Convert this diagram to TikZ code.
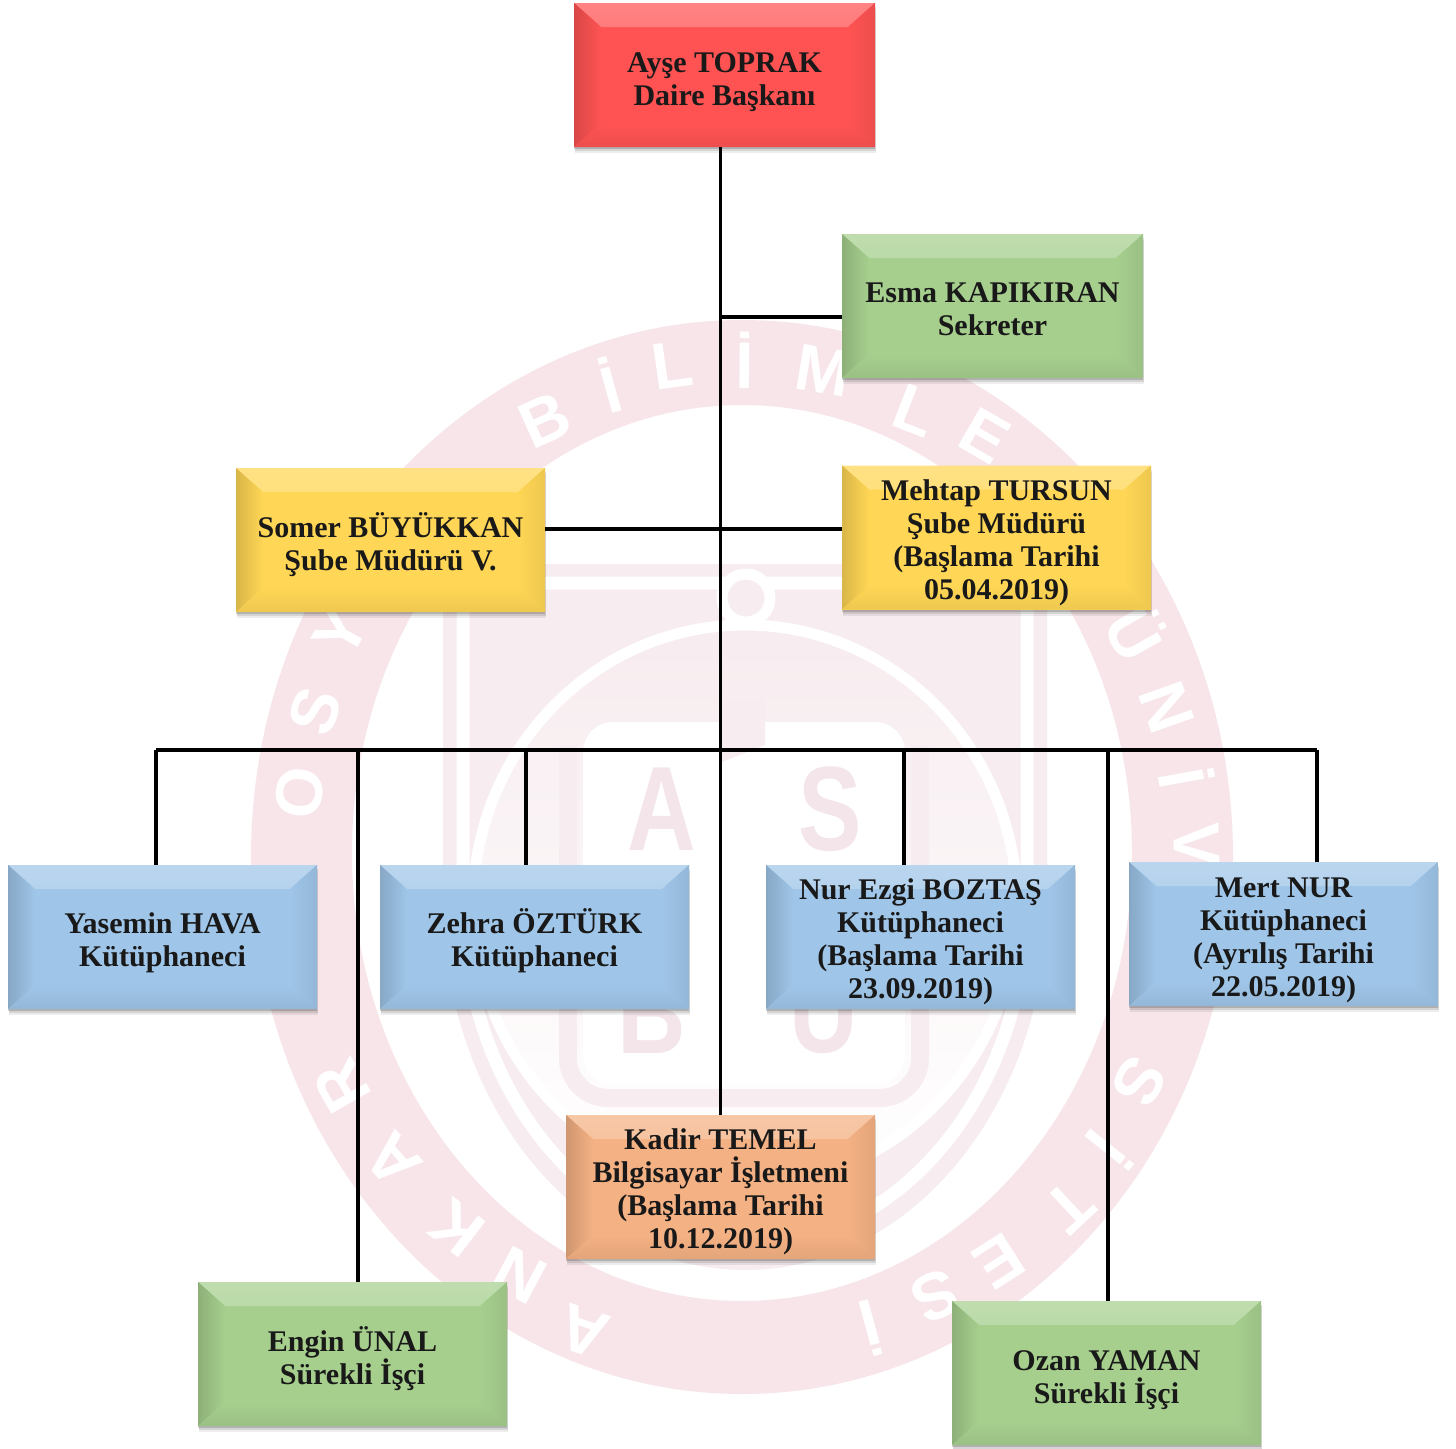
\documentclass[tikz,border=0pt]{standalone}
\usepackage{fontspec}
\setmainfont{Liberation Serif}
\newfontfamily\wmfont{Liberation Sans}
\definecolor{bxred}{HTML}{FF5353}
\definecolor{bxgreen}{HTML}{A6CF8E}
\definecolor{bxyellow}{HTML}{FFD655}
\definecolor{bxblue}{HTML}{9FC5E8}
\definecolor{bxorange}{HTML}{F4B183}
\definecolor{wmring}{HTML}{F7E5E9}
\definecolor{wmpale}{HTML}{F7ECEF}
\definecolor{wmletter}{HTML}{F3E5E9}
\newcommand\firstline[1]{\rule{0pt}{#1pt}}
\tikzset{
  bevelbox/.style={
    inner sep=0pt, outer sep=0pt, align=center,
    font=\fontsize{30}{33}\selectfont\bfseries, text=black!90,
    preaction={fill=black,opacity=.07,transform canvas={xshift=1pt,yshift=-6pt}},
    preaction={fill=black,opacity=.10,transform canvas={xshift=.5pt,yshift=-4pt}},
    preaction={fill=black,opacity=.16,transform canvas={yshift=-2pt}},
    fill=#1,
    path picture={
      \shade[top color=#1!72!white,bottom color=#1]
        (path picture bounding box.north west)--(path picture bounding box.north east)
        --([shift={(-27,24)}]path picture bounding box.north east)--([shift={(27,24)}]path picture bounding box.north west)--cycle;
      \shade[left color=#1!85!black,right color=#1]
        (path picture bounding box.north west)--([shift={(27,24)}]path picture bounding box.north west)
        --([shift={(27,-24)}]path picture bounding box.south west)--(path picture bounding box.south west)--cycle;
      \shade[left color=#1,right color=#1!93!black]
        (path picture bounding box.north east)--([shift={(-27,24)}]path picture bounding box.north east)
        --([shift={(-27,-24)}]path picture bounding box.south east)--(path picture bounding box.south east)--cycle;
      \shade[top color=#1,bottom color=#1!93!black]
        (path picture bounding box.south west)--([shift={(27,-24)}]path picture bounding box.south west)
        --([shift={(-27,-24)}]path picture bounding box.south east)--(path picture bounding box.south east)--cycle;
    }},
  wide/.style={minimum width=309pt,minimum height=144pt},
  narrow/.style={minimum width=301pt,minimum height=144pt},
  conn/.style={draw=black,line width=3.6pt},
  wmring letter/.style={font=\wmfont\fontsize{66}{66}\selectfont\bfseries,text=white,inner sep=0pt},
  wmbig letter/.style={font=\wmfont\fontsize{100}{100}\selectfont\bfseries,text=wmletter,inner sep=0pt,xscale=.95,yscale=1.2},
}
\begin{document}
\begin{tikzpicture}[x=1pt,y=-1pt]
\useasboundingbox (0,0) rectangle (1456,1448);
\fill[white] (0,0) rectangle (1456,1448);
% ---- watermark -------------------------------------------------
\fill[wmring,even odd rule] (742,857) ellipse [x radius=491,y radius=537]
      (742,853) ellipse [x radius=390,y radius=448];
\foreach \px/\py/\ch [count=\i] in {545/420/B,610/385/İ,672/365/L,745/360/İ,823/371/M,915/411/L,985/436/E,
   1137/632/Ü,1167/707/N,1187/778/İ,1197/845/V,1139/1082/S,1110/1150/İ,1069/1207/T,999/1261/E,935/1296/S,871/1328/İ,
   584/1332/A,520/1275/N,457/1228/K,393/1160/A,342/1086/R,300/793/O,315/711/S,340/632/Y}{
  \pgfmathsetmacro\wmang{-atan2(\px-742,857-\py)}
  \node[wmring letter,rotate=\wmang] (wl\i) at (\px,\py) {\ch};
}
% shield
\fill[wmpale] (443,564) -- (1047,564) -- (1047,900) arc [start angle=0,end angle=180,x radius=302,y radius=370] -- cycle;
\draw[white,line width=13pt] (463,583) -- (1027,583) -- (1027,900) arc [start angle=0,end angle=180,x radius=282,y radius=345] -- cycle;
% arch
\shade[top color=wmpale,bottom color=white] (745,905) ellipse [x radius=272,y radius=280];
\draw[white,line width=11pt] (745,905) ellipse [x radius=272,y radius=280];
\fill[wmpale] (746,598) circle [radius=24];
\draw[white,line width=11pt] (746,598) circle [radius=24];
% book
\draw[wmpale,line width=18pt,rounded corners=40pt] (568,745) -- (568,1098) -- (920,1098) -- (920,745);
\fill[white,rounded corners=30pt] (583,722) -- (905,722) -- (905,1085) -- (583,1085) -- cycle;
\fill[wmpale] (722,700) -- (765,700) -- (765,745) -- (722,762) -- cycle;
\node[wmbig letter] (wmA) at (662,809) {A};
\node[wmbig letter] (wmS) at (830,809) {S};
\node[wmbig letter] (wmB) at (652,1012) {B};
\node[wmbig letter] (wmU) at (824,1012) {U};
% ---- boxes -------------------------------------------------------
\node[bevelbox=bxred,narrow] (top) at (724.5,75) {\firstline{34}Ayşe TOPRAK\\Daire Başkanı};
\node[bevelbox=bxgreen,narrow] (sek) at (992.5,306) {\firstline{26}Esma KAPIKIRAN\\Sekreter};
\node[bevelbox=bxyellow,wide] (somer) at (390.5,540) {\firstline{34}Somer BÜYÜKKAN\\Şube Müdürü V.};
\node[bevelbox=bxyellow,wide] (mehtap) at (996.5,537.5) {\firstline{32}Mehtap TURSUN\\Şube Müdürü\\(Başlama Tarihi\\05.04.2019)};
\node[bevelbox=bxblue,wide] (yas) at (162.5,937) {\firstline{32}Yasemin HAVA\\Kütüphaneci};
\node[bevelbox=bxblue,wide] (zehra) at (534.5,937) {\firstline{32}Zehra ÖZTÜRK\\Kütüphaneci};
\node[bevelbox=bxblue,wide] (nur) at (920.5,937) {\firstline{30}Nur Ezgi BOZTAŞ\\Kütüphaneci\\(Başlama Tarihi\\23.09.2019)};
\node[bevelbox=bxblue,wide] (mert) at (1283.5,934) {\firstline{32}Mert NUR\\Kütüphaneci\\(Ayrılış Tarihi\\22.05.2019)};
\node[bevelbox=bxorange,wide] (kadir) at (720.5,1187) {\firstline{30}Kadir TEMEL\\Bilgisayar İşletmeni\\(Başlama Tarihi\\10.12.2019)};
\node[bevelbox=bxgreen,wide] (engin) at (352.5,1354) {\firstline{34}Engin ÜNAL\\Sürekli İşçi};
\node[bevelbox=bxgreen,wide] (ozan) at (1106.5,1373) {\firstline{34}Ozan YAMAN\\Sürekli İşçi};
% ---- connectors --------------------------------------------------
\coordinate (busL) at (156,750);
\coordinate (busR) at (1317,750);
\coordinate (busE) at (358,750);
\coordinate (busZ) at (526,750);
\coordinate (busN) at (904,750);
\coordinate (busO) at (1108,750);
\coordinate (cross) at (720,529);
\draw[conn] (kadir.north) -- (kadir.north |- top.south);
\draw[conn] (sek.west) ++(0,11) -- ++(-122,0);
\draw[conn] (somer.east |- cross) -- (mehtap.west |- cross);
\draw[conn,line cap=square] (busL) -- (busR);
\draw[conn] (busL) -- (busL |- yas.north);
\draw[conn] (busE) -- (busE |- engin.north);
\draw[conn] (busZ) -- (busZ |- zehra.north);
\draw[conn] (busN) -- (busN |- nur.north);
\draw[conn] (busO) -- (busO |- ozan.north);
\draw[conn] (busR) -- (busR |- mert.north);
\end{tikzpicture}
\end{document}
